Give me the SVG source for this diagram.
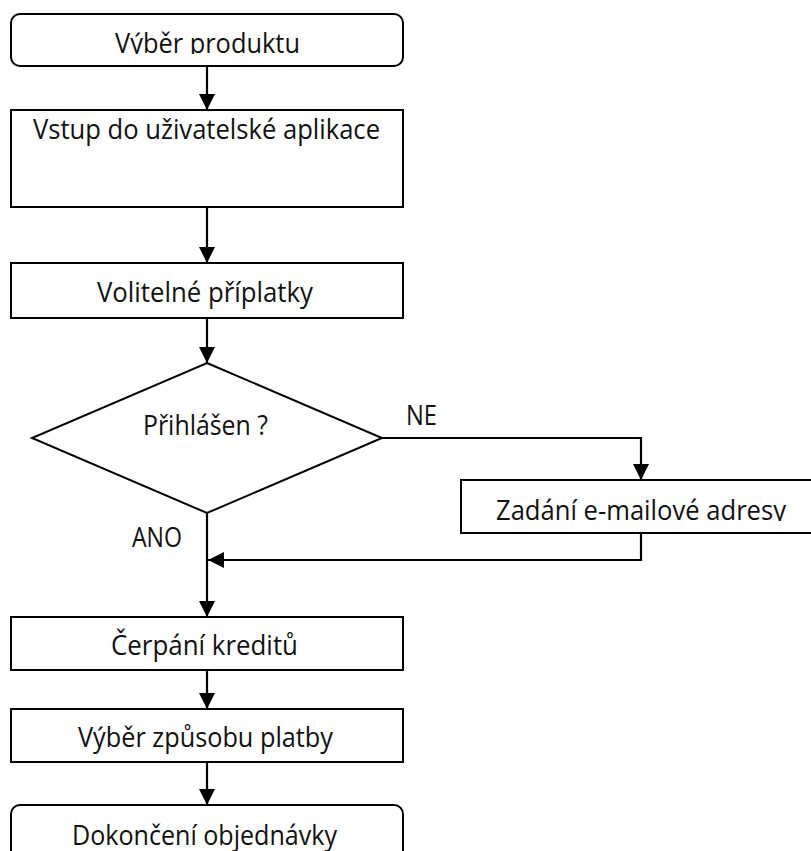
<svg xmlns="http://www.w3.org/2000/svg" width="811" height="851" viewBox="0 0 811 851">
  <style>
    .box { fill: #fff; stroke: #000; stroke-width: 2; }
    .lbl { font-family: "Open Sans", "Liberation Sans", sans-serif; font-size: 27.5px; fill: #111; }
    .edge { fill: none; stroke: #000; stroke-width: 2.2; }
  </style>
  <defs>
    <marker id="arrow" markerUnits="userSpaceOnUse" markerWidth="16" markerHeight="16" viewBox="0 0 16 16" refX="16" refY="8" orient="auto">
      <path d="M0,0 L16,8 L0,16 Z" fill="#000"/>
    </marker>
    <clipPath id="clipStart"><rect x="0" y="0" width="811" height="54"/></clipPath>
    <clipPath id="clipEmail"><rect x="0" y="0" width="811" height="521"/></clipPath>
  </defs>

  <!-- connectors -->
  <g id="connectors">
    <line class="edge" x1="207" y1="66" x2="207" y2="110" marker-end="url(#arrow)"/>
    <line class="edge" x1="207" y1="207" x2="207" y2="263" marker-end="url(#arrow)"/>
    <line class="edge" x1="207" y1="318" x2="207" y2="363" marker-end="url(#arrow)"/>
    <polyline class="edge" points="382,438 641,438 641,480" marker-end="url(#arrow)"/>
    <polyline class="edge" points="641,533 641,560 208,560" marker-end="url(#arrow)"/>
    <line class="edge" x1="207" y1="513" x2="207" y2="617" marker-end="url(#arrow)"/>
    <line class="edge" x1="207" y1="670" x2="207" y2="709" marker-end="url(#arrow)"/>
    <line class="edge" x1="207" y1="762" x2="207" y2="805" marker-end="url(#arrow)"/>
    <text class="lbl" x="406" y="425" textLength="31" lengthAdjust="spacingAndGlyphs">NE</text>
    <text class="lbl" x="132" y="547" textLength="50" lengthAdjust="spacingAndGlyphs">ANO</text>
  </g>

  <g id="start">
    <rect class="box" x="11" y="14" width="392" height="52" rx="9"/>
    <text class="lbl" x="115" y="53" textLength="185" lengthAdjust="spacingAndGlyphs" clip-path="url(#clipStart)">Výběr produktu</text>
  </g>

  <g id="login-app">
    <rect class="box" x="11" y="110" width="392" height="97"/>
    <text class="lbl" x="33" y="139" textLength="347" lengthAdjust="spacingAndGlyphs">Vstup do uživatelské aplikace</text>
  </g>

  <g id="extras">
    <rect class="box" x="11" y="263" width="392" height="55"/>
    <text class="lbl" x="97" y="302" textLength="216" lengthAdjust="spacingAndGlyphs">Volitelné příplatky</text>
  </g>

  <g id="logged-in">
    <polygon class="box" points="207,363 382,438 207,513 32,438"/>
    <text class="lbl" x="143" y="435" textLength="125" lengthAdjust="spacingAndGlyphs">Přihlášen ?</text>
  </g>

  <g id="email">
    <rect class="box" x="461" y="480" width="360" height="53"/>
    <text class="lbl" x="496" y="520" textLength="290" lengthAdjust="spacingAndGlyphs" clip-path="url(#clipEmail)">Zadání e-mailové adresy</text>
  </g>

  <g id="credits">
    <rect class="box" x="11" y="617" width="392" height="53"/>
    <text class="lbl" x="111" y="655" textLength="187" lengthAdjust="spacingAndGlyphs">Čerpání kreditů</text>
  </g>

  <g id="payment">
    <rect class="box" x="11" y="709" width="392" height="53"/>
    <text class="lbl" x="78" y="747" textLength="255" lengthAdjust="spacingAndGlyphs">Výběr způsobu platby</text>
  </g>

  <g id="finish">
    <rect class="box" x="11" y="805" width="392" height="70" rx="9"/>
    <text class="lbl" x="72" y="845" textLength="265" lengthAdjust="spacingAndGlyphs">Dokončení objednávky</text>
  </g>
</svg>
